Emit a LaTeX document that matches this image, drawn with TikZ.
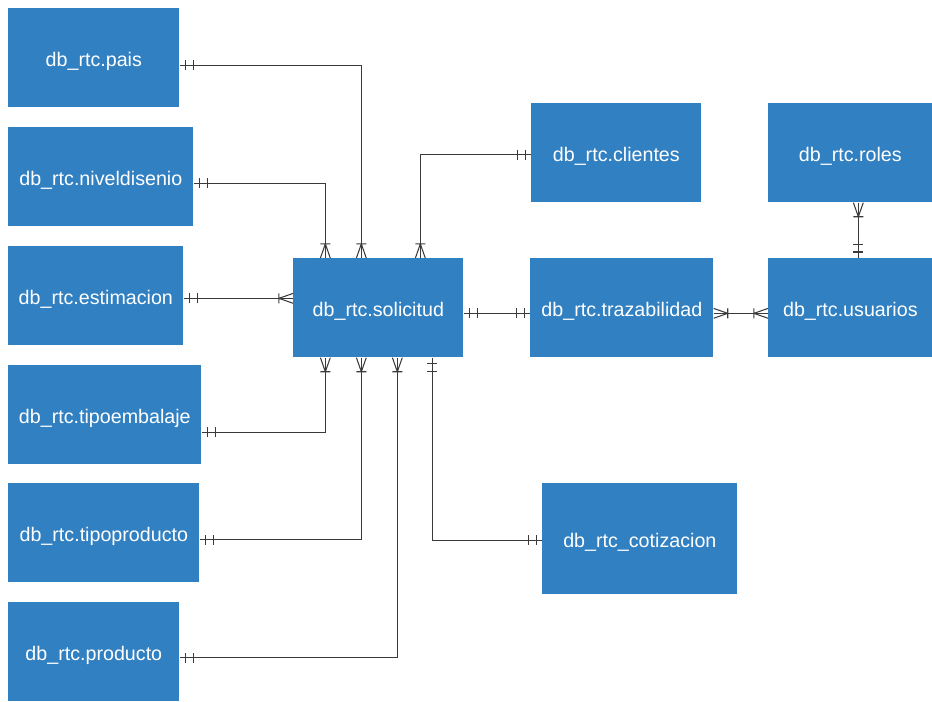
\documentclass[tikz,border=0pt]{standalone}
\usepackage{fontspec}
\setmainfont{Liberation Sans}
\usepackage{xcolor}
\usetikzlibrary{decorations.markings}

\definecolor{tablaazul}{RGB}{49,128,194}
\definecolor{linea}{RGB}{58,58,58}

\begin{document}
\begin{tikzpicture}[x=0.02cm,y=-0.02cm,
one start/.style={postaction={decorate,decoration={markings,
    mark=at position 3.4pt with {\draw (0,-2.8pt) -- (0,2.8pt);},
    mark=at position 7.8pt with {\draw (0,-2.8pt) -- (0,2.8pt);}}}},
one end/.style={postaction={decorate,decoration={markings,
    mark=at position -3.4pt with {\draw (0,-2.8pt) -- (0,2.8pt);},
    mark=at position -7.8pt with {\draw (0,-2.8pt) -- (0,2.8pt);}}}},
many start/.style={postaction={decorate,decoration={markings,
    mark=at position 8pt with {\draw (0,-2.8pt) -- (0,2.8pt)
        (0,0) -- (-8pt,2.8pt) (0,0) -- (-8pt,-2.8pt);}}}},
many end/.style={postaction={decorate,decoration={markings,
    mark=at position -8pt with {\draw (0,-2.8pt) -- (0,2.8pt)
        (0,0) -- (8pt,2.8pt) (0,0) -- (8pt,-2.8pt);}}}},
rel/.style={draw=linea,line width=0.6pt}]
\tikzstyle{every node}=[rectangle,fill=tablaazul,text=white,anchor=north west,
    minimum height=1.98cm,inner sep=0pt,text height=2.2ex,text depth=0.3ex,
    font=\fontsize{11.2}{13}\selectfont]
\useasboundingbox (0,0) rectangle (932,702);

% tablas de la izquierda
\node[minimum width=3.42cm] (pais) at (8,8) {db\_rtc.pais};
\node[minimum width=3.70cm] (nivel) at (8,127) {db\_rtc.niveldisenio};
\node[minimum width=3.50cm] (estimacion) at (8,246) {db\_rtc.estimacion};
\node[minimum width=3.86cm] (embalaje) at (8,365) {db\_rtc.tipoembalaje};
\node[minimum width=3.82cm] (tipoprod) at (8,483) {db\_rtc.tipoproducto};
\node[minimum width=3.42cm] (producto) at (8,602) {db\_rtc.producto};

% centro y derecha
\node[minimum width=3.40cm] (solicitud) at (293,258) {db\_rtc.solicitud};
\node[minimum width=3.40cm] (clientes) at (531,103) {db\_rtc.clientes};
\node[minimum width=3.66cm] (traza) at (530,258) {db\_rtc.trazabilidad};
\node[minimum width=3.28cm] (roles) at (768,103) {db\_rtc.roles};
\node[minimum width=3.28cm] (usuarios) at (768,258) {db\_rtc.usuarios};
\node[minimum width=3.90cm,minimum height=2.22cm] (cotizacion) at (542,483) {db\_rtc\_cotizacion};

% relaciones
\draw[rel,one start,many end] ([yshift=-0.15cm]pais.east) -| ([xshift=-0.34cm]solicitud.north);
\draw[rel,one start,many end] ([yshift=-0.13cm]nivel.east) -| ([xshift=-1.06cm]solicitud.north);
\draw[rel,one start,many end] ([yshift=-0.04cm]clientes.west) -| ([xshift=0.84cm]solicitud.north);
\draw[rel,one start,many end] ([yshift=-0.05cm]estimacion.east) -- ([yshift=-0.05cm]estimacion.east -| solicitud.west);
\draw[rel,one start,many end] ([yshift=-0.35cm]embalaje.east) -| ([xshift=-1.06cm]solicitud.south);
\draw[rel,one start,many end] ([yshift=-0.14cm]tipoprod.east) -| ([xshift=-0.34cm]solicitud.south);
\draw[rel,one start,many end] ([yshift=-0.12cm]producto.east) -| ([xshift=0.38cm]solicitud.south);
\draw[rel,one start,one end] ([yshift=-0.03cm]cotizacion.west) -| ([xshift=1.08cm]solicitud.south);
\draw[rel,one start,one end] ([yshift=-0.11cm]solicitud.east) -- ([yshift=-0.11cm]traza.west);
\draw[rel,many start,many end] ([yshift=-0.11cm]traza.east) -- ([yshift=-0.11cm]usuarios.west);
\draw[rel,many start,one end] ([xshift=0.16cm]roles.south) -- ([xshift=0.16cm]usuarios.north);
\end{tikzpicture}
\end{document}
